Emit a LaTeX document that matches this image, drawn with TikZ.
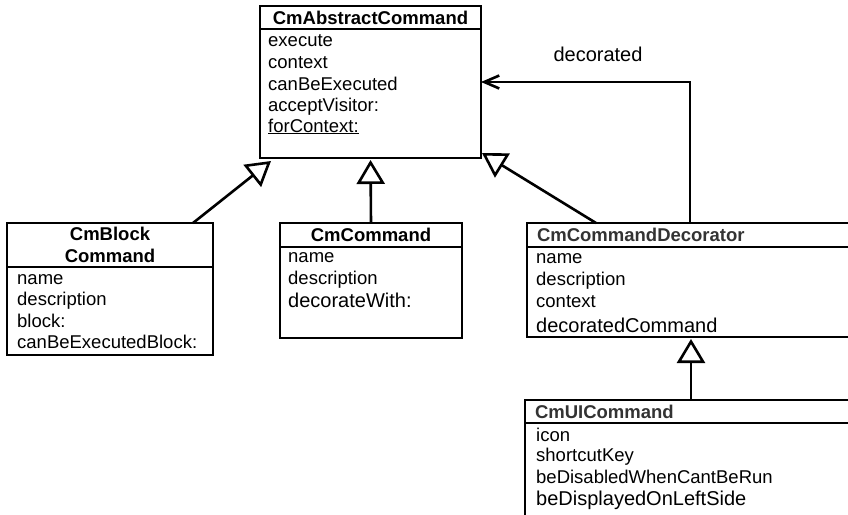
\documentclass[tikz,border=0pt]{standalone}
\usepackage{fontspec}
\setmainfont{Liberation Sans}
\usetikzlibrary{arrows.meta,calc,positioning}

\newcommand{\umlsize}{\fontsize{18.5}{22}\selectfont}
\newcommand{\newsize}{\fontsize{20}{24}\selectfont}

\begin{document}
\begin{tikzpicture}[x=1pt,y=-1pt]
    \tikzstyle{classbox} = [rectangle, draw, line width=2.6pt, inner sep=0pt, outer sep=0pt, anchor=north west]
    \tikzstyle{classhead} = [classbox, font=\umlsize\bfseries]
    \tikzstyle{member} = [anchor=base west, inner sep=0pt, font=\umlsize]
    \tikzstyle{inherit} = [line width=2.6pt, -{Triangle[open, length=24pt, width=28pt]}]
    \tikzstyle{assoc} = [line width=2.6pt, -{Straight Barb[length=15pt, width=13pt]}]

    \useasboundingbox (0,0) rectangle (848,514);

    % Abstract command
    \node[classbox, minimum width=221, minimum height=152] (abs) at (260,6) {};
    \node[classhead, minimum width=221, minimum height=23] (abshead) at (260,6) {CmAbstractCommand};
    \foreach \y/\t in {46/execute, 68/context, 90/canBeExecuted, 111/acceptVisitor:, 132/\underline{forContext:}}
        \node[member] (abs-\y) at (268,\y) {\t};

    % Block command
    \node[classbox, minimum width=206, minimum height=132] (blk) at (7,223) {};
    \node[classhead, minimum width=206, minimum height=44, align=center] (blkhead) at (7,223) {CmBlock\\Command};
    \foreach \y/\t in {284/name, 305/description, 327/block:, 348/canBeExecutedBlock:}
        \node[member] (blk-\y) at (17,\y) {\t};

    % Command
    \node[classbox, minimum width=182, minimum height=115] (cmd) at (280,223) {};
    \node[classhead, minimum width=182, minimum height=24] (cmdhead) at (280,223) {CmCommand};
    \foreach \y/\t in {262/name, 284/description, 307/{\newsize decorateWith:}}
        \node[member] (cmd-\y) at (288,\y) {\t};

    % Decorator
    \node[classbox, minimum width=360, minimum height=114] (dec) at (527,223) {};
    \node[classhead, minimum width=360, minimum height=24, text width=340, inner xsep=10pt, align=left, text=black!80] (dechead) at (527,223) {CmCommandDecorator};
    \foreach \y/\t in {263/name, 285/description, 307/context, 332/{\newsize decoratedCommand}}
        \node[member] (dec-\y) at (536,\y) {\t};

    % UI command
    \node[classbox, minimum width=362, minimum height=130] (ui) at (525,400) {};
    \node[classhead, minimum width=362, minimum height=23, text width=342, inner xsep=10pt, align=left, text=black!80] (uihead) at (525,400) {CmUICommand};
    \foreach \y/\t in {441/icon, 461/shortcutKey, 483/beDisabledWhenCantBeRun, 505/{\newsize beDisplayedOnLeftSide}}
        \node[member] (ui-\y) at (536,\y) {\t};

    % Generalizations
    \draw[inherit] ($(blk.north west)+(186,0)$) -- ($(abs.south west)+(11,3)$);
    \draw[inherit, shorten >=2pt] (cmd.north) -- (abs.south);
    \draw[inherit] ($(dec.north west)+(69,0)$) -- ($(abs.south east)+(1,-5)$);
    \draw[inherit, shorten >=2pt] ($(ui.north west)+(166,0)$) -- ($(dec.south west)+(164,0)$);

    % Decorated association
    \draw[assoc] ($(dec.north west)+(163,0)$) |- (abs.east);
    \node[anchor=base, inner sep=0pt, font=\newsize] (declabel) at (598,61) {decorated};
\end{tikzpicture}
\end{document}
